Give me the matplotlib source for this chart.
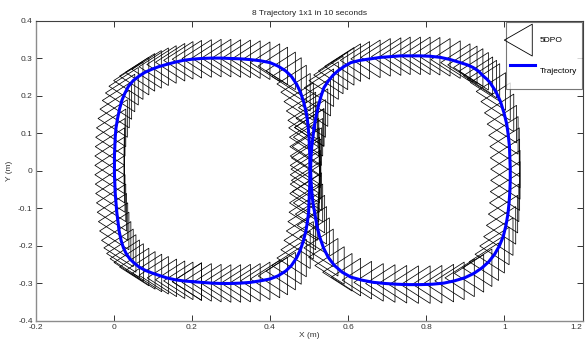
import numpy as np
import matplotlib
matplotlib.use("Agg")
import matplotlib.pyplot as plt
from matplotlib.collections import PolyCollection
from matplotlib.lines import Line2D

plt.rcParams['font.family'] = ['Liberation Sans', 'DejaVu Sans']

# ---------------- data ----------------
title = "8 Trajectory 1x1 in 10 seconds"
xlabel = "X (m)"
ylabel = "Y (m)"
legend_labels = ["5DPO", "Trajectory"]

xticks = [-0.2, 0, 0.2, 0.4, 0.6, 0.8, 1, 1.2]
xticklabels = ["-0.2", "0", "0.2", "0.4", "0.6", "0.8", "1", "1.2"]
yticks = [-0.4, -0.3, -0.2, -0.1, 0, 0.1, 0.2, 0.3, 0.4]
yticklabels = ["-0.4", "-0.3", "-0.2", "-0.1", "0", "0.1", "0.2", "0.3", "0.4"]

# left loop of the figure-8 (x, y in metres)
left_x = [0.200, 0.225, 0.250, 0.275, 0.300, 0.325, 0.350, 0.375, 0.400, 0.420,
          0.440, 0.455, 0.468, 0.478, 0.486, 0.492, 0.496, 0.499, 0.500, 0.501,
          0.502, 0.502, 0.502, 0.502, 0.501, 0.500, 0.498, 0.496, 0.492, 0.486,
          0.478, 0.468, 0.455, 0.440, 0.420, 0.400, 0.375, 0.350, 0.325, 0.300,
          0.275, 0.250, 0.225, 0.200, 0.178, 0.157, 0.135, 0.115, 0.097, 0.080,
          0.065, 0.050, 0.038, 0.029, 0.021, 0.015, 0.010, 0.006, 0.004, 0.003,
          0.002, 0.002, 0.002, 0.003, 0.004, 0.006, 0.008, 0.011, 0.014, 0.019,
          0.025, 0.032, 0.041, 0.051, 0.065, 0.081, 0.098, 0.115, 0.136, 0.157,
          0.178, 0.200]
left_y = [-0.295, -0.297, -0.299, -0.300, -0.300, -0.299, -0.297, -0.293, -0.288, -0.280,
          -0.267, -0.252, -0.232, -0.210, -0.185, -0.160, -0.135, -0.110, -0.085, -0.060,
          -0.035, -0.010, 0.015, 0.040, 0.065, 0.090, 0.115, 0.135, 0.160, 0.185,
          0.210, 0.232, 0.252, 0.267, 0.280, 0.289, 0.294, 0.297, 0.299, 0.300,
          0.301, 0.301, 0.300, 0.298, 0.295, 0.290, 0.284, 0.278, 0.271, 0.263,
          0.253, 0.241, 0.226, 0.208, 0.188, 0.165, 0.140, 0.115, 0.090, 0.065,
          0.040, 0.015, -0.010, -0.035, -0.060, -0.085, -0.110, -0.135, -0.160, -0.185,
          -0.205, -0.220, -0.234, -0.244, -0.256, -0.265, -0.272, -0.278, -0.285, -0.290,
          -0.293, -0.295]

# right loop of the figure-8
right_x = [0.513, 0.517, 0.523, 0.530, 0.538, 0.550, 0.562, 0.574, 0.590, 0.607,
           0.630, 0.657, 0.683, 0.710, 0.734, 0.760, 0.785, 0.810, 0.836, 0.862,
           0.887, 0.905, 0.920, 0.934, 0.945, 0.955, 0.963, 0.978, 0.990, 0.999,
           1.006, 1.010, 1.013, 1.014, 1.015, 1.015, 1.014, 1.012, 1.009, 1.004,
           0.997, 0.987, 0.975, 0.960, 0.943, 0.922, 0.898, 0.872, 0.845, 0.815,
           0.785, 0.755, 0.725, 0.695, 0.665, 0.635, 0.607, 0.585, 0.565, 0.549,
           0.537, 0.527, 0.520, 0.515, 0.510, 0.507, 0.505, 0.504, 0.505, 0.507,
           0.510, 0.513]
right_y = [0.116, 0.140, 0.169, 0.197, 0.222, 0.241, 0.256, 0.267, 0.279, 0.289,
           0.295, 0.299, 0.303, 0.305, 0.307, 0.307, 0.307, 0.306, 0.303, 0.297,
           0.289, 0.283, 0.276, 0.266, 0.254, 0.245, 0.236, 0.212, 0.185, 0.155,
           0.125, 0.095, 0.065, 0.035, 0.005, -0.025, -0.055, -0.085, -0.115, -0.145,
           -0.175, -0.200, -0.222, -0.242, -0.258, -0.273, -0.285, -0.293, -0.299, -0.302,
           -0.303, -0.303, -0.302, -0.300, -0.297, -0.291, -0.283, -0.270, -0.252, -0.230,
           -0.205, -0.175, -0.145, -0.115, -0.085, -0.055, -0.025, 0.005, 0.035, 0.065,
           0.090, 0.116]

robot_heading = np.pi   # robot (omni) keeps pointing to -X

# ---------------- style ----------------
tri_front = 0.050   # apex distance ahead of the robot point
tri_back = 0.025    # base distance behind the robot point
tri_half = 0.050    # half of the base length

fig = plt.figure(figsize=(5.87, 3.40), dpi=100)
ax = fig.add_axes([0.0605, 0.0559, 0.9319, 0.8824])

def triangles(xs, ys, th):
    local = np.array([[tri_front, 0.0], [-tri_back, -tri_half], [-tri_back, tri_half]])
    c, s = np.cos(th), np.sin(th)
    rot = np.array([[c, -s], [s, c]])
    pts = local @ rot.T
    return [pts + np.array([x, y]) for x, y in zip(xs, ys)]

polys = triangles(left_x, left_y, robot_heading) + triangles(right_x, right_y, robot_heading)
pc = PolyCollection(polys, facecolors='none', edgecolors='black', linewidths=0.55, zorder=2)
ax.add_collection(pc)

ax.plot(left_x, left_y, color='#0000ff', lw=2.2, zorder=3, solid_joinstyle='round')
ax.plot(right_x, right_y, color='#0000ff', lw=2.2, zorder=3, solid_joinstyle='round')

ax.set_xlim(-0.2, 1.2)
ax.set_ylim(-0.4, 0.4)
ax.set_xticks(xticks)
ax.set_xticklabels(xticklabels)
ax.set_yticks(yticks)
ax.set_yticklabels(yticklabels)
ax.tick_params(direction='in', top=True, right=True, length=4, width=0.7,
               labelsize=6, pad=2, colors='#333333')
xt = ax.get_xticklabels()
xt[-1].set_horizontalalignment('right')
for side in ['left', 'bottom']:
    ax.spines[side].set_color('#8c8c8c')
    ax.spines[side].set_linewidth(1.0)
for side in ['top', 'right']:
    ax.spines[side].set_color('#404040')
    ax.spines[side].set_linewidth(0.8)

ax.set_title(title, fontsize=6, pad=4, color='#222222')
ax.set_xlabel(xlabel, fontsize=6, labelpad=1, color='#333333')
ax.set_ylabel(ylabel, fontsize=6, labelpad=4, color='#333333')

# left-pointing triangle, drawn a little lower/left of the handle centre
tri_marker = [(-1.2, -0.35), (0.55, -1.35), (0.55, 0.65), (-1.2, -0.35)]
handles = [
    Line2D([], [], linestyle='none', marker=tri_marker, markersize=31,
           markerfacecolor='none', markeredgecolor='black', markeredgewidth=0.6),
    Line2D([], [], color='#0000ff', lw=2.2),
]
leg = ax.legend(handles, legend_labels, loc='upper right', fontsize=6,
                frameon=True, fancybox=False, borderaxespad=0.1,
                handlelength=3.0, handleheight=4.4, labelspacing=0.66,
                borderpad=0.57, handletextpad=0.5)
leg.get_frame().set_edgecolor('#555555')
leg.get_frame().set_linewidth(0.8)

fig.savefig("out.png", dpi=100)
